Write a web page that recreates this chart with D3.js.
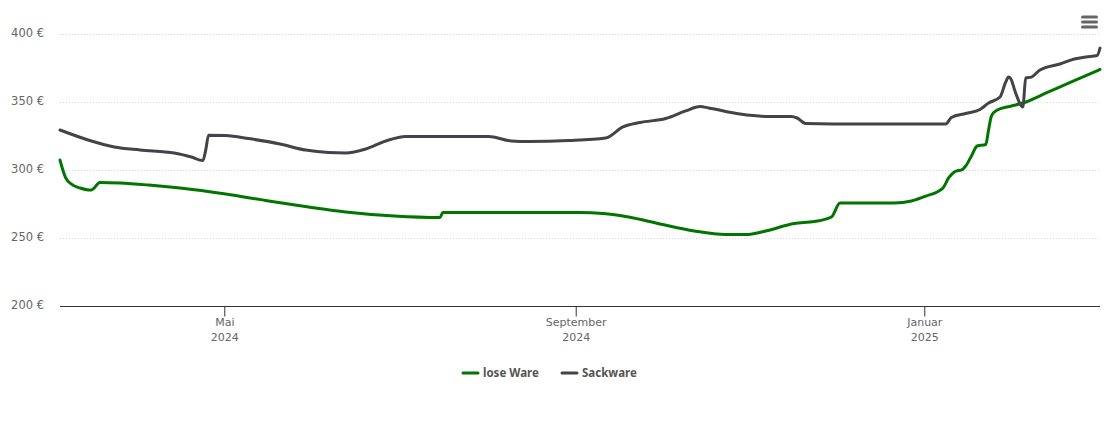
<!DOCTYPE html>
<html>
<head>
<meta charset="utf-8">
<script src="https://cdn.jsdelivr.net/npm/d3@7"></script>
<style>
  html, body { margin: 0; padding: 0; background: #fff; }
  text { font-family: "DejaVu Sans", sans-serif; font-size: 11px; fill: #666; }
  .grid line { stroke: #d8d8d8; stroke-dasharray: 1 2; }
  .legend text { font-family: "Noto Sans", sans-serif; font-size: 11.5px; font-weight: bold; fill: #555; }
</style>
</head>
<body>
<svg id="chart" width="1110" height="423" style="display:block"></svg>
<script>
// lose Ware
var loseDates = ["2024-03-04","2024-03-05","2024-03-06","2024-03-08","2024-03-11","2024-03-14","2024-03-15","2024-03-18","2024-03-25","2024-04-04","2024-04-15","2024-05-01","2024-05-16","2024-05-30","2024-06-12","2024-06-29","2024-07-15","2024-07-16","2024-08-05","2024-09-02","2024-09-10","2024-09-19","2024-09-30","2024-10-12","2024-10-23","2024-10-30","2024-11-06","2024-11-16","2024-11-23","2024-11-29","2024-12-02","2024-12-06","2024-12-21","2024-12-27","2025-01-01","2025-01-07","2025-01-09","2025-01-11","2025-01-14","2025-01-15","2025-01-17","2025-01-19","2025-01-22","2025-01-23","2025-01-24","2025-01-26","2025-01-31","2025-02-04","2025-02-13","2025-02-22","2025-03-03"];
var loseValues = [307.7,300.4,294.5,290,287.1,285.7,285.7,291.2,290.8,289.3,287.1,282.7,277.6,273.2,269.5,266.5,265.4,269.1,269.1,269.1,268.4,265.8,260.7,255.5,252.9,252.9,255.5,261,262.5,265.8,276.1,276.1,276.1,277.6,281.1,287.1,294.5,298.9,301,303.3,310.7,318,319.1,329.8,340,344.5,347.4,349.6,357.8,366,374.3];

// Sackware
var sackDates = ["2024-03-04","2024-03-15","2024-03-23","2024-04-01","2024-04-13","2024-04-19","2024-04-23","2024-04-24","2024-04-25","2024-05-01","2024-05-09","2024-05-20","2024-05-29","2024-06-06","2024-06-12","2024-06-19","2024-06-26","2024-07-03","2024-07-11","2024-08-01","2024-08-09","2024-08-15","2024-08-29","2024-09-11","2024-09-17","2024-09-23","2024-10-02","2024-10-09","2024-10-14","2024-10-17","2024-10-28","2024-11-07","2024-11-15","2024-11-17","2024-11-20","2024-12-09","2025-01-08","2025-01-10","2025-01-15","2025-01-20","2025-01-23","2025-01-27","2025-01-29","2025-01-30","2025-01-31","2025-02-01","2025-02-02","2025-02-03","2025-02-04","2025-02-05","2025-02-07","2025-02-10","2025-02-17","2025-02-22","2025-02-26","2025-03-02","2025-03-03"];
var sackValues = [329.8,321.7,317.3,315.1,312.9,309.9,307.3,315,326,325.7,323.5,319.5,315,313.2,312.9,315.8,321.7,325,325,325,321.7,321.3,322,323.9,332,335.3,338.2,343.8,347,346,341.5,339.7,339.7,338.6,334.6,334.2,334.2,339,341.9,344.9,349.6,354,365,368.7,366.5,360,354,349,346.7,368,368.7,373.9,378.3,382,383.5,384.5,390];

var yTicks = [200, 250, 300, 350, 400];
var xTicks = ["2024-05-01", "2024-09-01", "2025-01-01"];
var xTickMonths = ["Mai", "September", "Januar"];
var seriesNames = ["lose Ware", "Sackware"];
var seriesColors = ["#007500", "#434348"];

var parseDate = d3.utcParse("%Y-%m-%d");
var svg = d3.select("#chart");

// prijzen staan op de middag van de dag
function noon(d) { return d3.utcHour.offset(parseDate(d), 12); }

var x = d3.scaleUtc()
    .domain([noon("2024-03-04"), noon("2025-03-03")])
    .range([60, 1100]);
var y = d3.scaleLinear()
    .domain([200, 400])
    .range([306.5, 34.5]);

// horizontal grid, dotted
svg.append("g")
    .attr("class", "grid")
    .selectAll("line")
    .data(yTicks.slice(1))
    .enter()
    .append("line")
    .attr("x1", 60)
    .attr("x2", 1100)
    .attr("y1", function(d) { return y(d); })
    .attr("y2", function(d) { return y(d); });

// y axis, labels only
var yAxis = svg.append("g")
    .attr("transform", "translate(60,0)")
    .call(d3.axisLeft(y).tickValues(yTicks).tickSize(0).tickPadding(16)
        .tickFormat(function(d) { return d + " €"; }));
yAxis.select(".domain").remove();
yAxis.selectAll("text").attr("dy", "0.2em").style("font-size", "11.5px").style("font-family", "DejaVu Sans");

// x axis
var tickDates = xTicks.map(parseDate);
var xAxis = svg.append("g")
    .attr("transform", "translate(0,306.5)")
    .call(d3.axisBottom(x).tickValues(tickDates).tickSize(10).tickSizeOuter(0).tickFormat(""));
xAxis.select(".domain").attr("stroke", "#333").attr("d", "M60,0H1100");
xAxis.selectAll(".tick line").attr("stroke", "#333");

var tickLabels = xAxis.selectAll(".tick text")
    .attr("y", 0)
    .attr("dy", 0);
tickLabels.each(function(d, i) {
    var label = d3.select(this);
    label.append("tspan").attr("x", 0).attr("y", 19).text(xTickMonths[i]);
    label.append("tspan").attr("x", 0).attr("y", 34).text(d.getUTCFullYear());
});

// de lijnen
var line = d3.line()
    .x(function(d) { return x(d.date); })
    .y(function(d) { return y(d.value); })
    .curve(d3.curveMonotoneX);

function toPoints(dates, values) {
    return dates.map(function(d, i) { return { date: noon(d), value: values[i] }; });
}

var allSeries = [toPoints(loseDates, loseValues), toPoints(sackDates, sackValues)];

svg.selectAll(".serie")
    .data(allSeries)
    .enter()
    .append("path")
    .attr("class", "serie")
    .attr("fill", "none")
    .attr("stroke-width", 3)
    .attr("stroke-linejoin", "round")
    .attr("stroke-linecap", "round")
    .attr("stroke", function(d, i) { return seriesColors[i]; })
    .attr("d", line);

// legenda
var legendX = [463, 562];
var legend = svg.selectAll(".legend")
    .data(seriesNames)
    .enter()
    .append("g")
    .attr("class", "legend")
    .attr("transform", function(d, i) { return "translate(" + legendX[i] + ",373)"; });

legend.append("line")
    .attr("x1", 0)
    .attr("x2", 15)
    .attr("stroke-width", 3)
    .attr("stroke-linecap", "round")
    .attr("stroke", function(d, i) { return seriesColors[i]; });

legend.append("text")
    .attr("x", 20)
    .attr("dy", "0.36em")
    .text(function(d) { return d; });

// menu knop
svg.append("g")
    .selectAll("rect")
    .data([0, 1, 2])
    .enter()
    .append("rect")
    .attr("x", 1081)
    .attr("y", function(d) { return 15.5 + d * 5; })
    .attr("width", 17)
    .attr("height", 3)
    .attr("rx", 1.5)
    .attr("fill", "#666");
</script>
</body>
</html>
